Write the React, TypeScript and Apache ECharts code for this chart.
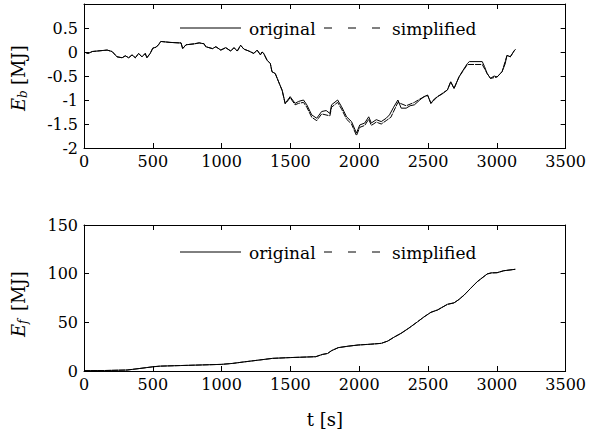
import React, { useEffect, useRef } from "react";
import * as echarts from "echarts";

// Battery energy E_b [MJ] over time t [s]
const tBOriginal = [
  0, 30, 60, 96, 132, 168, 204, 240, 277, 300, 325, 349, 373, 397, 421, 445, 457, 481, 500, 524,
  541, 558, 625, 690, 705, 717, 741, 801, 837, 873, 885, 934, 958, 994, 1030, 1066, 1090, 1114,
  1138, 1162, 1198, 1234, 1258, 1282, 1294, 1306, 1330, 1354, 1366, 1390, 1414, 1440, 1462, 1480,
  1498, 1534, 1559, 1595, 1619, 1655, 1691, 1727, 1760, 1787, 1799, 1843, 1872, 1908, 1944, 1980,
  2004, 2040, 2069, 2088, 2124, 2160, 2196, 2220, 2250, 2281, 2305, 2341, 2370, 2401, 2440, 2470,
  2497, 2521, 2545, 2569, 2600, 2641, 2665, 2689, 2725, 2750, 2786, 2800, 2894, 2910, 2930, 2954,
  2980, 3002, 3038, 3060, 3074, 3098, 3127, 3135,
];
const ebOriginal = [
  0, -0.03, 0.01, 0.02, 0.03, 0.04, 0.01, -0.1, -0.12, -0.08, -0.12, -0.06, -0.12, -0.03, -0.1,
  -0.03, -0.12, -0.03, 0.08, 0.1, 0.15, 0.22, 0.2, 0.19, 0.19, 0.07, 0.15, 0.17, 0.19, 0.17, 0.11,
  0.07, 0.11, 0.04, 0.09, 0.02, 0.09, 0.02, 0.14, 0.06, 0.02, -0.03, 0.04, -0.06, 0.0, -0.03, -0.17,
  -0.24, -0.41, -0.45, -0.62, -0.8, -1.07, -1.0, -0.93, -1.07, -1.03, -1.0, -1.1, -1.31, -1.38,
  -1.24, -1.22, -1.28, -1.1, -1.0, -1.14, -1.35, -1.45, -1.69, -1.52, -1.48, -1.35, -1.48, -1.41,
  -1.45, -1.38, -1.31, -1.15, -1.0, -1.17, -1.17, -1.12, -1.1, -1.0, -0.93, -0.9, -1.07, -0.98,
  -0.93, -0.88, -0.79, -0.62, -0.76, -0.52, -0.4, -0.24, -0.2, -0.2, -0.3, -0.45, -0.55, -0.5,
  -0.52, -0.41, -0.25, -0.07, -0.1, 0.03, 0.05,
];
const tBSimplified = [
  0, 30, 60, 96, 132, 168, 204, 240, 277, 300, 325, 349, 373, 397, 421, 445, 457, 481, 500, 524,
  541, 558, 625, 690, 705, 717, 741, 801, 837, 873, 885, 934, 958, 994, 1030, 1066, 1090, 1114,
  1138, 1162, 1198, 1234, 1258, 1282, 1294, 1306, 1330, 1354, 1366, 1390, 1414, 1440, 1462, 1480,
  1498, 1534, 1559, 1595, 1619, 1655, 1691, 1727, 1787, 1799, 1843, 1872, 1908, 1944, 1980, 2004,
  2040, 2069, 2088, 2124, 2160, 2196, 2230, 2281, 2341, 2401, 2440, 2497, 2521, 2569, 2641, 2665,
  2689, 2725, 2786, 2894, 2930, 2954, 3002, 3038, 3074, 3098, 3127, 3135,
];
const ebSimplified = [
  0, -0.03, 0.01, 0.02, 0.03, 0.04, 0.01, -0.1, -0.12, -0.08, -0.12, -0.06, -0.12, -0.03, -0.1,
  -0.03, -0.12, -0.03, 0.08, 0.1, 0.15, 0.22, 0.2, 0.19, 0.19, 0.07, 0.15, 0.17, 0.19, 0.17, 0.11,
  0.07, 0.11, 0.04, 0.09, 0.02, 0.09, 0.02, 0.14, 0.06, 0.02, -0.03, 0.04, -0.06, 0.0, -0.03, -0.17,
  -0.24, -0.41, -0.45, -0.62, -0.8, -1.08, -1.02, -0.95, -1.1, -1.07, -1.05, -1.15, -1.36, -1.43,
  -1.29, -1.33, -1.15, -1.05, -1.19, -1.4, -1.5, -1.74, -1.57, -1.53, -1.4, -1.53, -1.46, -1.5,
  -1.43, -1.36, -1.05, -1.12, -1.05, -0.98, -0.9, -1.07, -0.93, -0.79, -0.62, -0.76, -0.52, -0.26,
  -0.26, -0.45, -0.55, -0.52, -0.41, -0.07, -0.1, 0.03, 0.05,
];

// Fuel energy E_f [MJ] over time t [s]
const tF = [
  0, 150, 313, 400, 505, 553, 700, 998, 1080, 1155, 1275, 1371, 1500, 1684, 1732, 1770, 1799, 1848,
  1920, 1992, 2080, 2160, 2208, 2250, 2304, 2360, 2425, 2470, 2521, 2569, 2641, 2689, 2725, 2762,
  2810, 2858, 2930, 2960, 3002, 3050, 3134,
];
const efOriginal = [
  0.3, 0.5, 1, 2.5, 4.4, 5, 5.6, 6.8, 7.8, 9.2, 11.3, 13, 13.8, 14.7, 17, 18, 20.9, 24, 25.5, 26.7,
  27.5, 28.4, 30.8, 34.5, 38.7, 44, 50.7, 55.5, 60.3, 62.7, 68.5, 70, 73.5, 78, 85, 91.8, 99.7,
  100.8, 101, 103, 104.5,
];
const efSimplified = [
  0.3, 0.5, 1, 2.5, 4.4, 5, 5.6, 6.8, 7.8, 9.2, 11.3, 13, 13.8, 14.7, 17, 18, 20.9, 24, 25.5, 26.7,
  27.5, 28.4, 30.8, 34.5, 38.7, 44, 50.7, 55.5, 60.3, 62.7, 68.5, 70, 73.5, 78, 85, 91.8, 99.7,
  100.8, 101, 103, 104.5,
];

const xTicks = { min: 0, max: 3500, interval: 500 };
const ebTicks = { min: -2, max: 1, interval: 0.5 };
const efTicks = { min: 0, max: 150, interval: 50 };
const seriesNames = ["original", "simplified"];

const FONT = "DejaVu Serif";
const INK = "#000";

const zip = (ts: number[], vs: number[]) => ts.map((t, i) => [t, vs[i]]);

const axisLine = { show: true, onZero: false, lineStyle: { color: INK, width: 1 } };
const axisTick = { show: true, inside: true, length: 5, lineStyle: { color: INK, width: 1 } };
const tickLabel = { color: INK, fontFamily: FONT, fontSize: 16 };

function xAxis(gridIndex: number, position: "bottom" | "top", labels: boolean, extra = {}) {
  return {
    type: "value",
    gridIndex,
    position,
    ...xTicks,
    axisLine,
    axisTick,
    splitLine: { show: false },
    axisLabel: labels
      ? { ...tickLabel, margin: 5, formatter: (v: number) => String(v) }
      : { show: false },
    ...extra,
  };
}

function yAxis(
  gridIndex: number,
  position: "left" | "right",
  ticks: { min: number; max: number; interval: number },
  labels: boolean,
  hide?: number
) {
  return {
    type: "value",
    gridIndex,
    position,
    ...ticks,
    axisLine,
    axisTick,
    splitLine: { show: false },
    axisLabel: labels
      ? {
          ...tickLabel,
          margin: 6,
          formatter: (v: number) => (v === hide ? "" : String(v)),
        }
      : { show: false },
  };
}

function yName(cx: number, cy: number, sub: string) {
  // rotated label "E_sub [MJ]" reading bottom to top
  const base = { fontFamily: FONT, fill: INK, textVerticalAlign: "middle" };
  return {
    type: "group",
    x: cx,
    y: cy,
    rotation: Math.PI / 2,
    children: [
      { type: "text", x: -39, y: 0, style: { ...base, text: "E", fontStyle: "italic", fontSize: 18 } },
      { type: "text", x: -26, y: 5, style: { ...base, text: sub, fontStyle: "italic", fontSize: 12 } },
      { type: "text", x: -13, y: 0, style: { ...base, text: "[MJ]", fontSize: 18 } },
    ],
  };
}

function legendBlock(y: number) {
  const textStyle = { fontFamily: FONT, fontSize: 17, fill: INK, textVerticalAlign: "middle" };
  const seg = (x1: number, x2: number) => ({
    type: "line",
    shape: { x1, y1: y, x2, y2: y },
    style: { stroke: INK, lineWidth: 1 },
  });
  return [
    seg(180, 241),
    { type: "text", x: 249, y: y + 1, style: { ...textStyle, text: seriesNames[0] } },
    seg(324, 332),
    seg(348, 356),
    seg(372, 380),
    { type: "text", x: 392, y: y + 1, style: { ...textStyle, text: seriesNames[1] } },
  ];
}

export default function App() {
  const ref = useRef<HTMLDivElement>(null);

  useEffect(() => {
    if (!ref.current) return;
    const chart = echarts.init(ref.current, null, { renderer: "svg" });

    const lineSeries = (name: string, data: number[][], axis: number, dashed: boolean) => ({
      name,
      type: "line",
      xAxisIndex: axis,
      yAxisIndex: axis,
      data,
      symbol: "none",
      showSymbol: false,
      lineStyle: { color: INK, width: 1, type: dashed ? [6, 1] : "solid" },
      z: dashed ? 3 : 2,
    });

    chart.setOption({
      animation: false,
      backgroundColor: "#fff",
      grid: [
        { left: 84, top: 4, width: 485, height: 144 },
        { left: 84, top: 225, width: 485, height: 146 },
      ],
      xAxis: [
        xAxis(0, "bottom", true),
        xAxis(0, "top", false),
        xAxis(1, "bottom", true, {
          name: "t [s]",
          nameLocation: "middle",
          nameGap: 39,
          nameTextStyle: { color: INK, fontFamily: FONT, fontSize: 18 },
        }),
        xAxis(1, "top", false),
      ],
      yAxis: [
        yAxis(0, "left", ebTicks, true, 1),
        yAxis(0, "right", ebTicks, false),
        yAxis(1, "left", efTicks, true),
        yAxis(1, "right", efTicks, false),
      ],
      series: [
        lineSeries(seriesNames[0], zip(tBOriginal, ebOriginal), 0, false),
        lineSeries(seriesNames[1], zip(tBSimplified, ebSimplified), 0, true),
        lineSeries(seriesNames[0], zip(tF, efOriginal), 2, false),
        lineSeries(seriesNames[1], zip(tF, efSimplified), 2, true),
      ],
      graphic: [
        yName(18, 72, "b"),
        yName(18, 298, "f"),
        ...legendBlock(28),
        ...legendBlock(252),
      ],
    });

    return () => chart.dispose();
  }, []);

  return (
    <div
      ref={ref}
      style={{ position: "fixed", left: 0, top: 0, width: 589, height: 431, background: "#fff" }}
    />
  );
}
